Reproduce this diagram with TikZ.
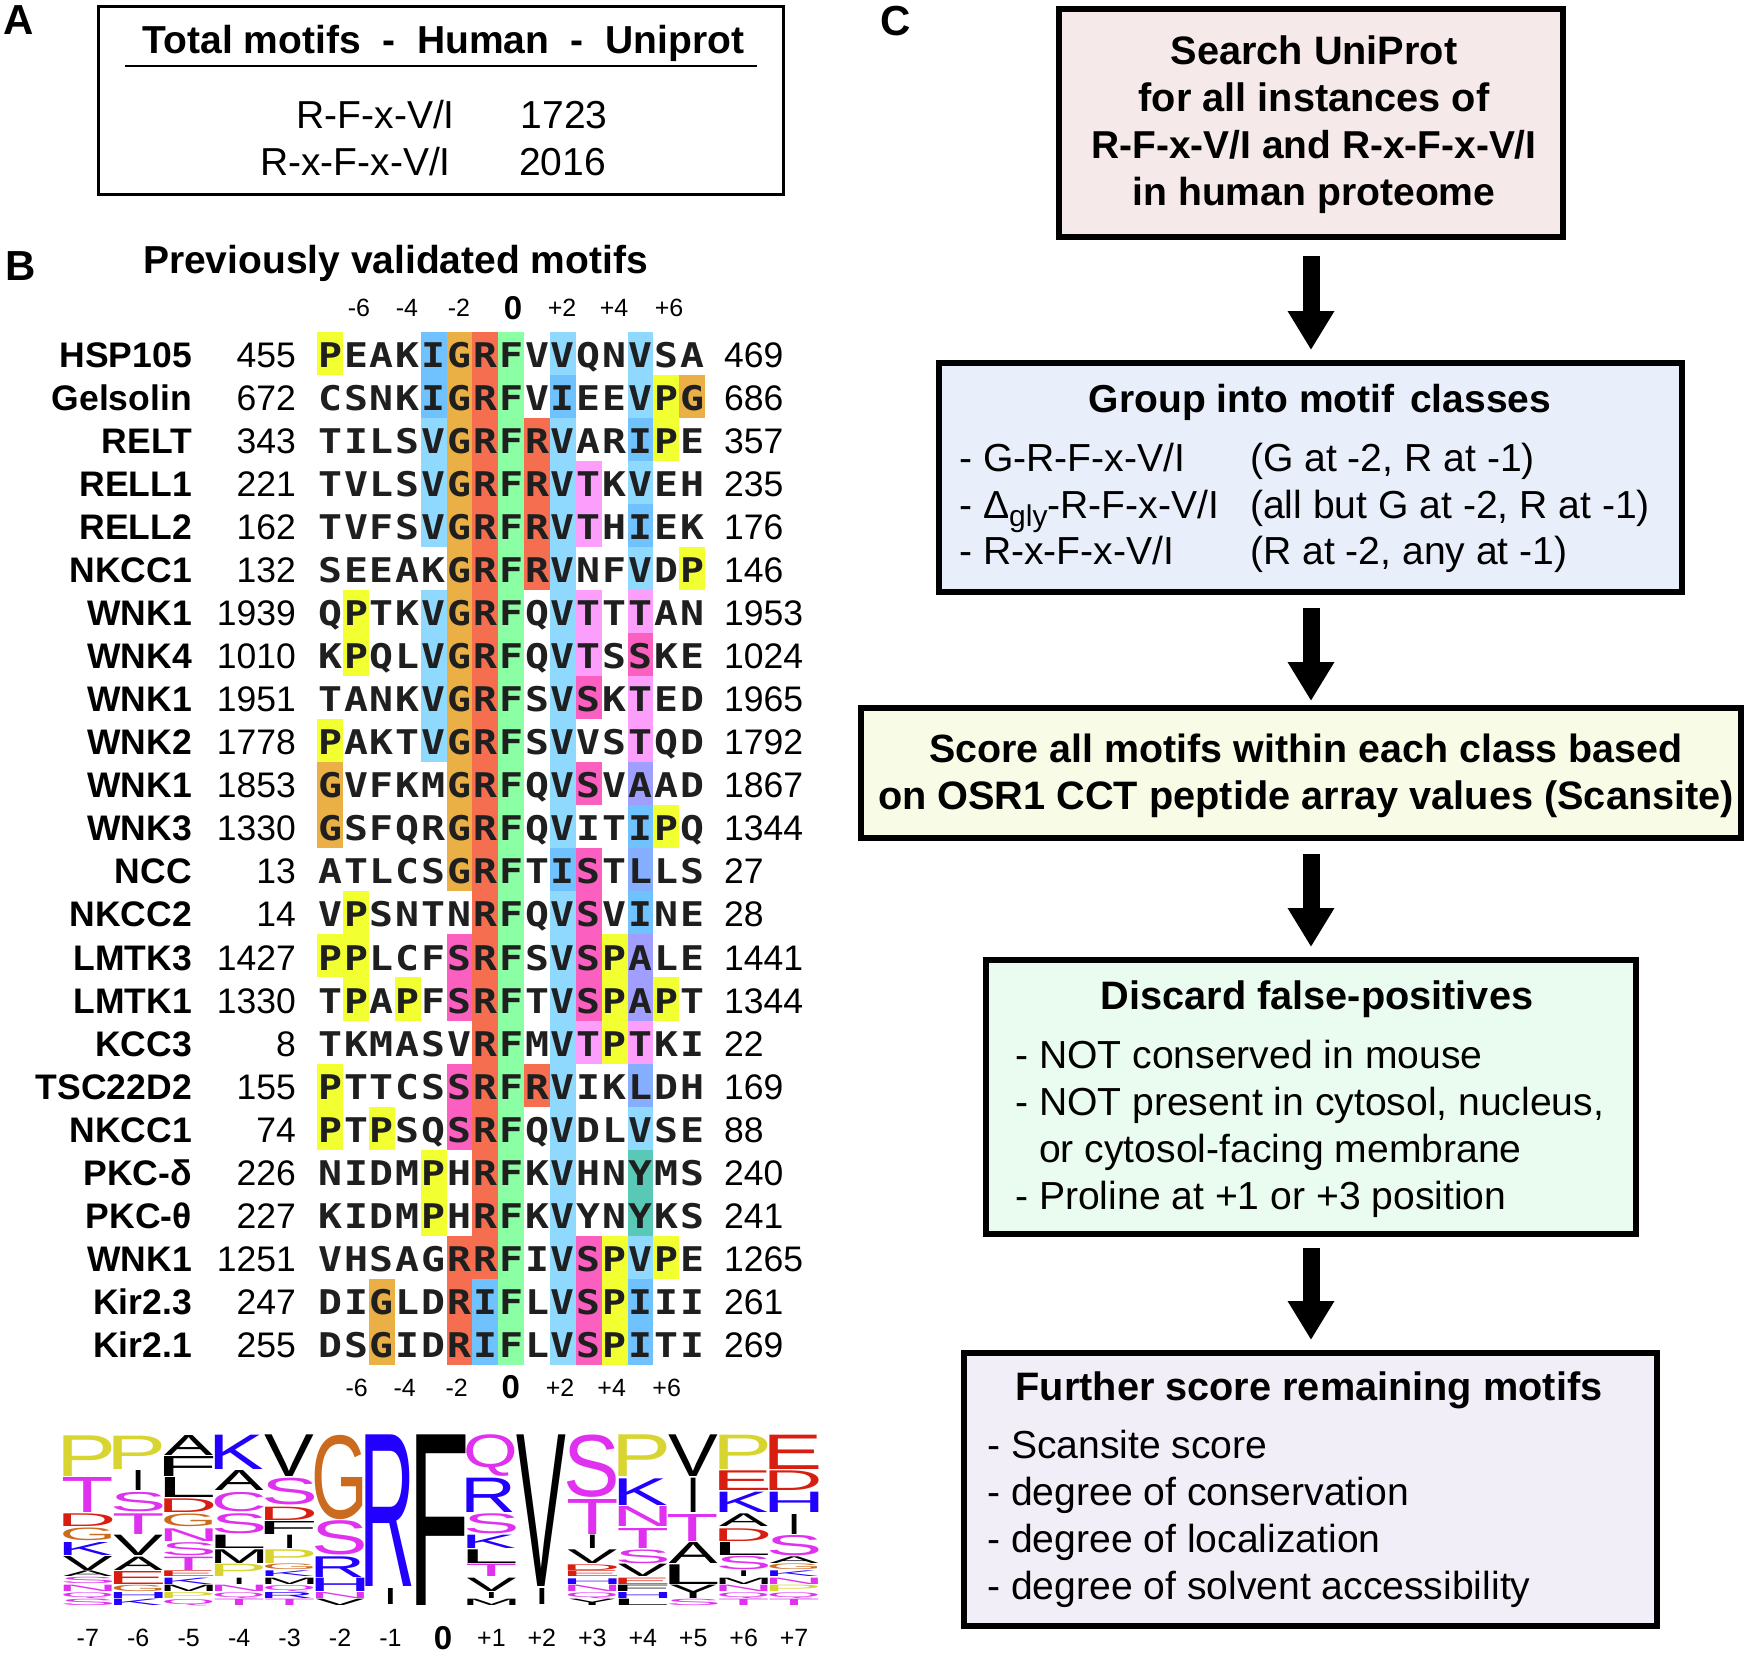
\documentclass[tikz,border=0pt]{standalone}
\usepackage{graphicx}
\usepackage{fontspec}
\setmainfont{Liberation Sans}
\setmonofont[FakeStretch=1.17]{DejaVu Sans Mono}
\usetikzlibrary{arrows.meta}
\newcommand\fsz[1]{\fontsize{#1}{#1}\selectfont}
% alignment cell colours
\definecolor{ccP}{HTML}{F2FF30}\definecolor{ccG}{HTML}{EBB045}\definecolor{ccR}{HTML}{F56E4F}
\definecolor{ccF}{HTML}{8AFFA4}\definecolor{ccV}{HTML}{8FD9FF}\definecolor{ccI}{HTML}{70C2FF}
\definecolor{ccT}{HTML}{FC9EFC}\definecolor{ccS}{HTML}{FB5FC0}\definecolor{ccA}{HTML}{A09EFF}
\definecolor{ccL}{HTML}{85AEFF}\definecolor{ccY}{HTML}{5AC8B6}
% logo colours
\definecolor{lgy}{HTML}{D8D430}\definecolor{lgm}{HTML}{E030F0}\definecolor{lgr}{HTML}{D81E10}
\definecolor{lgo}{HTML}{CC6A1E}\definecolor{lgb}{HTML}{2200FF}\definecolor{lgk}{HTML}{000000}
\makeatletter
\newcount\seqcol
\newcount\seqrownum
\seqrownum=-1
\def\seqcell#1{%
  \ifcsname \string\color@cc#1\endcsname
    \fill[cc#1] ({317.3+\the\seqcol*25.85},{331.7+\the\seqrownum*43.05}) rectangle ++(25.85,43.05);
  \fi
  \node[seqletter,name=c\the\seqrownum-\the\seqcol] at ({317.3+(\the\seqcol+0.5)*25.85},{367.3+\the\seqrownum*43.05}) {\uppercase{#1}};
  \advance\seqcol by 1\relax}
\def\seqloop#1{\ifx#1\relax\else\seqcell{#1}\expandafter\seqloop\fi}
\newcommand\seqrow[4]{%
  \global\advance\seqrownum by 1\relax
  \node[rowname,name=name\the\seqrownum] at (192,{367.3+\the\seqrownum*43.05}) {#1};
  \node[rownum,anchor=base east,name=numa\the\seqrownum] at (296,{367.3+\the\seqrownum*43.05}) {#2};
  \node[rownum,anchor=base west,name=numb\the\seqrownum] at (724,{367.3+\the\seqrownum*43.05}) {#4};
  \seqcol=0\relax
  \seqloop#3\relax}
% logo glyph table: advance, left bearing, right bearing, colour
\def\setlg#1#2#3#4#5{\@namedef{lgA#1}{#2}\@namedef{lgL#1}{#3}\@namedef{lgR#1}{#4}\@namedef{lgC#1}{#5}}
\setlg{A}{667}{0}{0}{lgk}\setlg{C}{722}{50}{40}{lgm}\setlg{D}{722}{80}{50}{lgr}
\setlg{E}{667}{80}{45}{lgr}\setlg{F}{611}{84}{40}{lgk}\setlg{G}{778}{50}{55}{lgo}
\setlg{H}{722}{80}{80}{lgb}\setlg{I}{278}{93}{95}{lgk}\setlg{K}{667}{75}{5}{lgb}
\setlg{L}{556}{75}{30}{lgk}\setlg{M}{833}{75}{75}{lgk}\setlg{N}{722}{75}{75}{lgm}
\setlg{P}{667}{78}{45}{lgy}\setlg{Q}{778}{45}{35}{lgm}\setlg{R}{722}{80}{10}{lgb}
\setlg{S}{667}{45}{45}{lgm}\setlg{T}{611}{20}{20}{lgm}\setlg{V}{667}{5}{5}{lgk}
\setlg{Y}{667}{5}{5}{lgk}
\newcommand\logocol[2]{%
  \foreach \myL/\myA/\myB in {#2}{%
    \edef\gA{\@nameuse{lgA\myL}}\edef\gL{\@nameuse{lgL\myL}}\edef\gR{\@nameuse{lgR\myL}}\edef\gC{\@nameuse{lgC\myL}}%
    \if I\myL\def\tgw{4.6}\else\def\tgw{49}\fi
    \pgfmathsetmacro\sx{\tgw/(\gA-\gL-\gR)}%
    \pgfmathsetmacro\lgw{\gA*\sx}%
    \pgfmathsetmacro\xc{63.3+#1*50.45+24.5+(\gR-\gL)/2*\sx}%
    \pgfmathsetmacro\yb{1410+\myB/3}%
    \pgfmathsetmacro\lgh{(\myB-\myA)/3}%
    \node[inner sep=0pt,outer sep=0pt,anchor=south,text=\gC,name=logo#1\myL\myA] at (\xc,\yb) {\resizebox*{\lgw pt}{\lgh pt}{\fsz{100}\myL}};
  }}
\makeatother
\tikzset{
  x=1pt,y=-1pt,
  seqletter/.style={inner sep=0pt,anchor=base,text=black!88,font=\ttfamily\bfseries\fsz{34}},
  rowname/.style={inner sep=0pt,anchor=base east,font=\bfseries\fsz{35.5}},
  rownum/.style={inner sep=0pt,font=\fsz{35.5}},
  tick/.style={inner sep=0pt,anchor=base,font=\fsz{25}},
  tickz/.style={inner sep=0pt,anchor=base,font=\bfseries\fsz{33}},
  panel/.style={inner sep=0pt,anchor=base west,font=\bfseries\fsz{42}},
  flowbox/.style={draw=black,line width=5.5pt,inner sep=0pt,outer sep=0pt},
  bt/.style={inner sep=0pt,anchor=base,font=\bfseries\fsz{39.7}},
  rt/.style={inner sep=0pt,anchor=base west,font=\fsz{39.1}},
  atitle/.style={inner sep=0pt,anchor=base,font=\bfseries\fsz{39}},
  atext/.style={inner sep=0pt,font=\fsz{39}},
  bigarrow/.style={-{Triangle[length=39pt,width=44pt]},line width=17pt,black},
}
\begin{document}
\begin{tikzpicture}
\useasboundingbox (0,0) rectangle (1750,1653);
\fill[white] (0,0) rectangle (1750,1653);
% panel labels
\node[panel,name=pA] at (3,35) {A};
\node[panel,name=pB] at (5,280) {B};
\node[panel,name=pC] at (880,36) {C};
% panel A
\node[draw=black,line width=2.6pt,inner sep=0pt,outer sep=0pt,minimum width=685pt,minimum height=188pt,name=boxA] at (441,100.5) {};
\node[atitle,name=tA] at (443.5,54) {Total motifs\ \ -\ \ Human\ \ -\ \ Uniprot};
\coordinate (ruleL) at (125,66);
\coordinate (ruleR) at (757,66);
\draw[line width=1.4pt] (ruleL) -- (ruleR);
\node[atext,anchor=base east,name=mA] at (455,128.5) {R-F-x-V/I};
\node[atext,anchor=base west,name=nA] at (520.5,128.5) {1723};
\node[atext,anchor=base east,name=mB] at (451,175.5) {R-x-F-x-V/I};
\node[atext,anchor=base west,name=nB] at (519,175.5) {2016};
% panel B
\node[atitle,name=tB] at (395.5,273) {Previously validated motifs};
\foreach \t/\xx in {-6/359,-4/407,-2/459,+2/562,+4/614,+6/669}{\node[tick,name=top\xx] at (\xx,316.7) {\t};}
\node[tickz,name=top0] at (513,319) {0};
\foreach \t/\xx in {-6/356.7,-4/404.7,-2/456.7,+2/560,+4/611.7,+6/666.7}{\node[tick,name=bot\t] at (\xx,1396) {\t};}
\node[tickz,name=bot0] at (510.7,1398.7) {0};
\seqrow{HSP105}{455}{PeakIGRFvVqnVsa}{469}
\seqrow{Gelsolin}{672}{csnkIGRFvIeeVPG}{686}
\seqrow{RELT}{343}{tilsVGRFRVarIPe}{357}
\seqrow{RELL1}{221}{tvlsVGRFRVTkVeh}{235}
\seqrow{RELL2}{162}{tvfsVGRFRVThIek}{176}
\seqrow{NKCC1}{132}{seeakGRFRVnfVdP}{146}
\seqrow{WNK1}{1939}{qPtkVGRFqVTtTan}{1953}
\seqrow{WNK4}{1010}{kPqlVGRFqVTsSke}{1024}
\seqrow{WNK1}{1951}{tankVGRFsVSkTed}{1965}
\seqrow{WNK2}{1778}{PaktVGRFsVvsTqd}{1792}
\seqrow{WNK1}{1853}{GvfkmGRFqVSvAad}{1867}
\seqrow{WNK3}{1330}{GsfqrGRFqVitIPq}{1344}
\seqrow{NCC}{13}{atlcsGRFtIStLls}{27}
\seqrow{NKCC2}{14}{vPsntnRFqVSvIne}{28}
\seqrow{LMTK3}{1427}{PPlcfSRFsVSPAle}{1441}
\seqrow{LMTK1}{1330}{tPaPfSRFtVSPAPt}{1344}
\seqrow{KCC3}{8}{tkmasvRFmVTPTki}{22}
\seqrow{TSC22D2}{155}{PttcsSRFRVikLdh}{169}
\seqrow{NKCC1}{74}{PtPsqSRFqVdlVse}{88}
\seqrow{PKC-δ}{226}{nidmPhRFkVhnYms}{240}
\seqrow{PKC-θ}{227}{kidmPhRFkVynYks}{241}
\seqrow{WNK1}{1251}{vhsagRRFiVSPVPe}{1265}
\seqrow{Kir2.3}{247}{diGldRIFlVSPIii}{261}
\seqrow{Kir2.1}{255}{dsGidRIFlVSPIti}{269}
% sequence logo
\logocol{0}{P/78/200,T/203/308,D/312/350,G/355/393,K/397/436,V/440/482,A/483/500,S/503/522,N/526/545,Q/548/566,S/568/587}
\logocol{1}{P/78/178,I/182/242,S/247/305,T/310/372,V/375/436,A/440/480,E/483/522,G/526/545,H/548/566,K/568/587}
\logocol{2}{A/75/135,F/140/200,L/203/263,D/267/308,G/312/350,N/355/393,S/397/436,T/440/480,E/483/500,K/503/522,M/526/545,P/548/566,Q/568/587}
\logocol{3}{K/75/178,A/182/242,C/247/305,S/312/372,L/375/415,M/419/460,P/463/500,I/503/522,N/526/545,Q/548/566,T/568/587}
\logocol{4}{V/75/200,S/205/285,D/290/330,F/333/372,I/375/415,P/419/460,G/463/480,K/483/500,M/503/522,Q/526/545,R/548/566,T/568/587}
\logocol{5}{G/75/328,S/333/436,R/440/502,H/505/545,N/548/566,V/568/587}
\logocol{6}{R/75/530,I/535/583}
\logocol{7}{F/75/587}
\logocol{8}{Q/75/200,R/205/308,S/312/372,K/375/415,L/419/460,T/463/500,V/505/545,I/548/566,M/568/587}
\logocol{9}{V/75/530,I/535/583}
\logocol{10}{S/75/262,T/267/372,I/375/415,V/419/460,D/463/480,E/483/500,H/505/522,N/526/545,Q/548/566,Y/568/587}
\logocol{11}{P/75/200,K/205/285,N/290/350,T/355/415,S/419/460,V/463/500,E/503/522,F/526/545,H/548/566,L/568/587}
\logocol{12}{V/75/200,I/205/308,T/312/393,A/397/460,L/463/522,Y/526/566,S/568/587}
\logocol{13}{P/75/178,E/183/242,K/247/308,A/312/350,D/355/393,L/397/436,S/440/480,I/483/500,M/503/522,N/526/545,Q/548/566,T/568/587}
\logocol{14}{E/75/178,D/183/242,H/247/308,I/312/372,S/375/436,A/440/460,G/463/480,K/483/500,N/503/522,P/526/545,Q/548/566,T/568/587}
\foreach \t [count=\i from 0] in {-7,-6,-5,-4,-3,-2,-1}{\node[tick,name=lx\i] at ({87.8+\i*50.45},1646.7) {\t};}
\node[tickz,name=lx7] at (443,1649) {0};
\foreach \t [count=\i from 8] in {+1,+2,+3,+4,+5,+6,+7}{\node[tick,name=lx\i] at ({87.8+\i*50.45},1646.7) {\t};}
% panel C boxes
\node[flowbox,fill={rgb,255:red,245;green,233;blue,234},minimum width=504pt,minimum height=228pt,name=b1] at (1311,123) {};
\node[flowbox,fill={rgb,255:red,232;green,238;blue,250},minimum width=743pt,minimum height=229pt,name=b2] at (1310.5,477.5) {};
\node[flowbox,fill={rgb,255:red,248;green,252;blue,230},minimum width=880pt,minimum height=130pt,name=b3] at (1301,773) {};
\node[flowbox,fill={rgb,255:red,234;green,252;blue,239},minimum width=650pt,minimum height=274pt,name=b4] at (1311,1097) {};
\node[flowbox,fill={rgb,255:red,242;green,238;blue,247},minimum width=693pt,minimum height=273pt,name=b5] at (1310.5,1489.5) {};
\node[bt,name=t11] at (1314,65) {Search UniProt};
\node[bt,name=t12] at (1314,112) {for all instances of};
\node[bt,font=\bfseries\fsz{38.9},name=t13] at (1314,159) {R-F-x-V/I and R-x-F-x-V/I};
\node[bt,font=\bfseries\fsz{39.1},name=t14] at (1314,206) {in human proteome};
\node[bt,font=\bfseries\fsz{39},name=t20] at (1320,412) {Group into motif\hspace{5pt} classes};
\node[rt,name=t21] at (959,471) {- G-R-F-x-V/I};
\node[rt,name=t22] at (959,518) {- Δ\raisebox{-8pt}{\fsz{30}gly}-R-F-x-V/I};
\node[rt,name=t23] at (959,564.5) {- R-x-F-x-V/I};
\node[rt,name=t24] at (1250,471) {(G at -2, R at -1)};
\node[rt,name=t25] at (1250,518) {(all but G at -2, R at -1)};
\node[rt,name=t26] at (1250,564.5) {(R at -2, any at -1)};
\node[bt,font=\bfseries\fsz{39.4},name=t31] at (1306,762) {Score all motifs within each class based};
\node[bt,name=t32] at (1306,809.5) {on OSR1 CCT peptide array values (Scansite)};
\node[bt,name=t40] at (1317,1009) {Discard false-positives};
\node[rt,name=t41] at (1015,1068) {- NOT conserved in mouse};
\node[rt,name=t42] at (1015,1115) {- NOT present in cytosol, nucleus,};
\node[rt,name=t43] at (1039,1162) {or cytosol-facing membrane};
\node[rt,name=t44] at (1015,1209) {- Proline at +1 or +3 position};
\node[bt,name=t50] at (1309,1400) {Further score remaining motifs};
\node[rt,name=t51] at (987,1458) {- Scansite score};
\node[rt,name=t52] at (987,1505.5) {- degree of conservation};
\node[rt,name=t53] at (987,1552.5) {- degree of localization};
\node[rt,name=t54] at (987,1599.5) {- degree of solvent accessibility};
% arrows
\coordinate (ax) at (1311,0);
\draw[bigarrow,shorten <=19pt,shorten >=13pt] (ax |- b1.south) -- (ax |- b2.north);
\draw[bigarrow,shorten <=16pt,shorten >=7pt] (ax |- b2.south) -- (ax |- b3.north);
\draw[bigarrow,shorten <=16pt,shorten >=13pt] (ax |- b3.south) -- (ax |- b4.north);
\draw[bigarrow,shorten <=14pt,shorten >=13pt] (ax |- b4.south) -- (ax |- b5.north);
\end{tikzpicture}
\end{document}
